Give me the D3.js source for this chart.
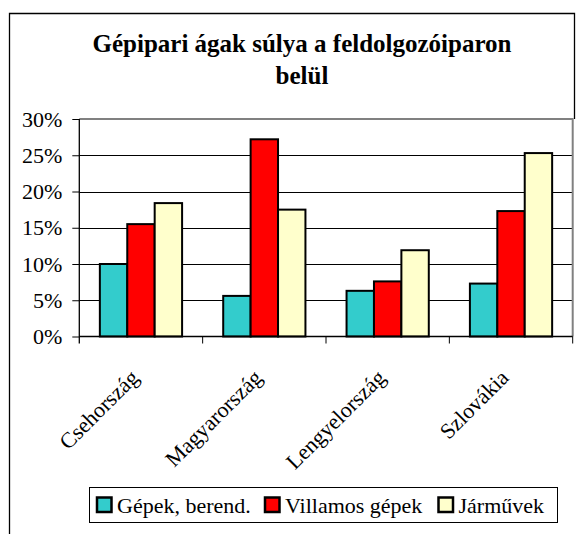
<!DOCTYPE html>
<html>
<head>
<meta charset="utf-8">
<script src="https://cdn.jsdelivr.net/npm/d3@7"></script>
<style>
  html, body { margin: 0; padding: 0; background: #fff; }
  svg text { font-family: "Liberation Serif", "Times New Roman", serif; }
</style>
</head>
<body>
<svg id="chart" width="584" height="534"></svg>
<script>
const categories = ["Csehország", "Magyarország", "Lengyelország", "Szlovákia"];
const seriesNames = ["Gépek, berend.", "Villamos gépek", "Járművek"];
const gepek = [0.100, 0.056, 0.063, 0.073];
const villamos = [0.155, 0.272, 0.076, 0.173];
const jarmuvek = [0.184, 0.175, 0.119, 0.253];
const yTicks = [0, 0.05, 0.10, 0.15, 0.20, 0.25, 0.30];
const titleLines = ["Gépipari ágak súlya a feldolgozóiparon", "belül"];
const colors = ["#33CCCC", "#FF0000", "#FFFFCC"];
const FONT = '"Liberation Serif", "Times New Roman", serif';

const seriesValues = [gepek, villamos, jarmuvek];
const data = categories.map((c, i) => ({
  cat: c,
  vals: seriesNames.map((s, j) => ({ s, j, v: seriesValues[j][i] }))
}));

const svg = d3.select("#chart");
const pL = 79.3, pR = 572.7, pT = 119, pB = 336.5;

// outer chart border (right edge visible only above plot area)
svg.append("path")
  .attr("d", `M9.5,534 L9.5,13.5 L574.5,13.5 L574.5,${pT}`)
  .attr("fill", "none").attr("stroke", "#000").attr("stroke-width", 1.3);

const x0 = d3.scaleBand().domain(categories).range([pL, pR]).padding(0);
const x1 = d3.scaleBand().domain(seriesNames).range([0, x0.bandwidth()])
  .paddingInner(0).paddingOuter(0.75);
const y = d3.scaleLinear().domain([0, 0.30]).range([pB, pT]);

// gridlines
svg.append("g").selectAll("line")
  .data(yTicks.filter(t => t > 0 && t < 0.30))
  .join("line")
  .attr("x1", pL).attr("x2", pR)
  .attr("y1", d => Math.round(y(d)) + 0.5).attr("y2", d => Math.round(y(d)) + 0.5)
  .attr("stroke", "#000").attr("stroke-width", 1);

// plot area border (top & right) gray
svg.append("path")
  .attr("d", `M${pL},${pT} L${pR},${pT} L${pR},${pB}`)
  .attr("fill", "none").attr("stroke", "#808080").attr("stroke-width", 2);

// bars
const groups = svg.append("g").selectAll("g")
  .data(data).join("g")
  .attr("transform", d => `translate(${x0(d.cat)},0)`);
groups.selectAll("rect")
  .data(d => d.vals).join("rect")
  .attr("x", d => x1(d.s))
  .attr("y", d => y(d.v))
  .attr("width", x1.bandwidth())
  .attr("height", d => y(0) - y(d.v))
  .attr("fill", d => colors[d.j])
  .attr("stroke", "#000").attr("stroke-width", 2);

// y axis
const yAxis = d3.axisLeft(y).tickValues(yTicks).tickSize(7).tickPadding(10)
  .tickFormat(d3.format(".0%"));
const gy = svg.append("g").attr("transform", `translate(${pL},0)`).call(yAxis)
  .attr("font-family", FONT).attr("font-size", 22);
gy.select(".domain").remove();
gy.selectAll(".tick line").attr("stroke", "#000");
gy.selectAll(".tick text").attr("font-size", 22).attr("fill", "#000")
  .attr("font-family", FONT);
svg.append("line").attr("x1", pL).attr("x2", pL).attr("y1", pT).attr("y2", pB + 7)
  .attr("stroke", "#000").attr("stroke-width", 1.3);

// x axis line + ticks at category boundaries
svg.append("line").attr("x1", pL).attr("x2", pR).attr("y1", pB).attr("y2", pB)
  .attr("stroke", "#000").attr("stroke-width", 1.3);
const boundaries = categories.map(c => x0(c) + x0.bandwidth());
svg.append("g").selectAll("line").data(boundaries).join("line")
  .attr("x1", d => d).attr("x2", d => d)
  .attr("y1", pB).attr("y2", pB + 7)
  .attr("stroke", "#000").attr("stroke-width", 1);

// x labels rotated
svg.append("g").selectAll("text").data(categories).join("text")
  .attr("transform", d => `translate(${x0(d) + x0.bandwidth() / 2 - 1},379) rotate(-45)`)
  .attr("text-anchor", "end")
  .attr("font-family", FONT)
  .attr("font-size", 22).attr("fill", "#000")
  .text(d => d);

// title
svg.append("g").selectAll("text").data(titleLines).join("text")
  .attr("x", 302).attr("y", (d, i) => 52 + i * 32)
  .attr("text-anchor", "middle").attr("font-weight", "bold")
  .attr("font-family", FONT)
  .attr("font-size", 25).attr("fill", "#000")
  .text(d => d);

// legend
const legend = svg.append("g");
legend.append("rect").attr("x", 89.5).attr("y", 487.5).attr("width", 468).attr("height", 35)
  .attr("fill", "#fff").attr("stroke", "#000").attr("stroke-width", 1);
const legX = [97, 265, 438.5];
const items = legend.selectAll("g.item").data(seriesNames).join("g").attr("class", "item")
  .attr("transform", (d, i) => `translate(${legX[i]},0)`);
items.append("rect").attr("x", 0).attr("y", 497.5).attr("width", 14.5).attr("height", 14.5)
  .attr("fill", (d, i) => colors[i]).attr("stroke", "#000").attr("stroke-width", 2.5);
items.append("text").attr("x", 20).attr("y", 513)
  .attr("font-family", FONT)
  .attr("font-size", 22).attr("fill", "#000").text(d => d);
</script>
</body>
</html>
